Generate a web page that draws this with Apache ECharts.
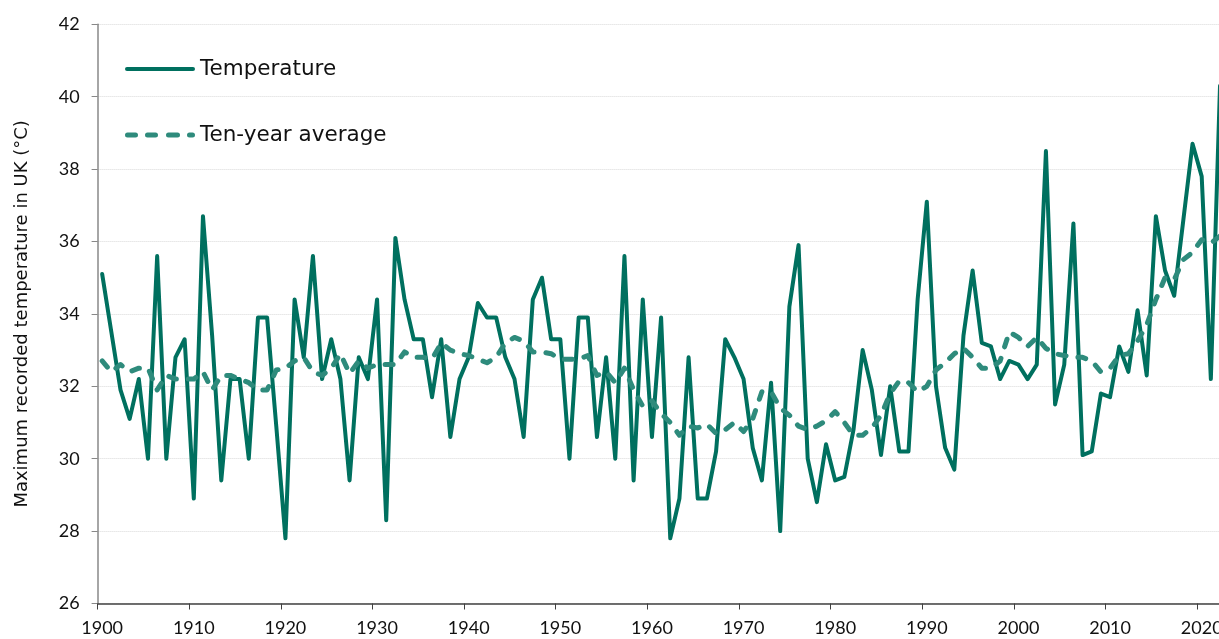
<!DOCTYPE html>
<html>
<head>
    <meta charset="utf-8" />
    <title>Maximum recorded temperature in UK</title>
    <style>
        html, body { margin: 0; padding: 0; background: #fff; }
        #chart { width: 1219px; height: 639px; }
    </style>
</head>
<body>
    <div id="chart"></div>
    <script src="https://cdn.jsdelivr.net/npm/echarts@6/dist/echarts.min.js"></script>
    <script>
        // years 1900 - 2022
        var years = [];
        for (var y = 1900; y <= 2022; y++) years.push(String(y));

        // highest temperature recorded each year (°C)
        var temperature = [
            35.1, 33.5, 31.9, 31.1, 32.2, 30.0, 35.6, 30.0, 32.8, 33.3,
            28.9, 36.7, 33.4, 29.4, 32.2, 32.2, 30.0, 33.9, 33.9, 30.9,
            27.8, 34.4, 32.8, 35.6, 32.2, 33.3, 32.2, 29.4, 32.8, 32.2,
            34.4, 28.3, 36.1, 34.4, 33.3, 33.3, 31.7, 33.3, 30.6, 32.2,
            32.8, 34.3, 33.9, 33.9, 32.8, 32.2, 30.6, 34.4, 35.0, 33.3,
            33.3, 30.0, 33.9, 33.9, 30.6, 32.8, 30.0, 35.6, 29.4, 34.4,
            30.6, 33.9, 27.8, 28.9, 32.8, 28.9, 28.9, 30.2, 33.3, 32.8,
            32.2, 30.3, 29.4, 32.1, 28.0, 34.2, 35.9, 30.0, 28.8, 30.4,
            29.4, 29.5, 30.8, 33.0, 31.9, 30.1, 32.0, 30.2, 30.2, 34.4,
            37.1, 32.0, 30.3, 29.7, 33.4, 35.2, 33.2, 33.1, 32.2, 32.7,
            32.6, 32.2, 32.6, 38.5, 31.5, 32.6, 36.5, 30.1, 30.2, 31.8,
            31.7, 33.1, 32.4, 34.1, 32.3, 36.7, 35.2, 34.5, 36.6, 38.7,
            37.8, 32.2, 40.3
        ];

        // ten-year average
        var tenYearAvg = [
            32.7, 32.4, 32.6, 32.4, 32.5, 32.5, 31.9, 32.3, 32.2, 32.2,
            32.2, 32.4, 31.9, 32.3, 32.3, 32.2, 32.1, 31.9, 31.9, 32.45,
            32.5, 32.7, 32.8, 32.4, 32.3, 32.5, 32.9, 32.35, 32.7, 32.5,
            32.6, 32.6, 32.6, 32.95, 32.8, 32.8, 32.75, 33.2, 33.0, 32.9,
            32.85, 32.75, 32.65, 32.8, 33.2, 33.35, 33.25, 32.95, 32.95, 32.9,
            32.75, 32.75, 32.75, 32.85, 32.3, 32.4, 32.1, 32.5, 31.9, 31.45,
            31.6, 31.25, 31.0, 30.65, 30.9, 30.85, 30.95, 30.7, 30.8, 31.0,
            30.75, 31.1, 31.85, 31.85, 31.4, 31.2, 30.9, 30.8, 30.9, 31.05,
            31.3, 31.0, 30.65, 30.65, 30.85, 31.2, 31.8, 32.15, 32.1, 31.85,
            32.0, 32.45, 32.65, 32.9, 33.05, 32.8, 32.5, 32.5, 32.7, 33.5,
            33.35, 33.1, 33.35, 33.05, 32.9, 32.85, 32.8, 32.8, 32.7, 32.4,
            32.5, 32.85, 32.9, 33.25, 33.7, 34.4, 35.0, 34.95, 35.5, 35.7,
            36.05, 35.95, 36.15
        ];

        var FONT = 'Lato';
        var WIDE_FONT = 'DejaVu Sans';
        var tempColor = '#00705F';
        var avgColor = '#2E8B7C';

        // legend icons: a solid rounded bar and a row of rounded dashes
        function roundBar(x0, x1, h) {
            var r = h / 2;
            return 'M' + (x0 + r) + ',0 H' + (x1 - r) +
                ' A' + r + ',' + r + ' 0 0 1 ' + (x1 - r) + ',' + h +
                ' H' + (x0 + r) +
                ' A' + r + ',' + r + ' 0 0 1 ' + (x0 + r) + ',0 Z ';
        }
        var solidIcon = 'path://' + roundBar(0, 70, 4);
        var dashIcon = 'path://' + roundBar(0, 13, 5) + roundBar(20, 33, 5) +
            roundBar(41, 55, 5) + roundBar(62, 70, 5);

        var chart = echarts.init(document.getElementById('chart'));

        var option = {
            animation: false,
            backgroundColor: '#fff',
            textStyle: { fontFamily: FONT },
            legend: [
                {
                    data: [{ name: 'Temperature', icon: solidIcon }],
                    left: 120,
                    top: 53,
                    itemWidth: 70,
                    itemHeight: 4,
                    textStyle: { fontFamily: WIDE_FONT, fontSize: 21.5, color: '#111' }
                },
                {
                    data: [{ name: 'Ten-year average', icon: dashIcon }],
                    left: 120,
                    top: 119,
                    itemWidth: 70,
                    itemHeight: 5,
                    textStyle: { fontFamily: WIDE_FONT, fontSize: 21.5, color: '#111' }
                }
            ],
            grid: {
                left: 97.6,
                top: 24.3,
                width: 1127,
                bottom: 35.5,
                containLabel: false,
                outerBoundsMode: 'none'
            },
            xAxis: {
                type: 'category',
                data: years,
                boundaryGap: true,
                axisLine: { lineStyle: { color: '#404040', width: 1.5 } },
                axisTick: { show: true, interval: 9, length: 6, lineStyle: { color: '#404040' } },
                axisLabel: {
                    interval: 9,
                    margin: 16,
                    fontFamily: FONT,
                    fontSize: 18,
                    color: '#111'
                },
                splitLine: { show: false }
            },
            yAxis: {
                type: 'value',
                min: 26,
                max: 42,
                interval: 2,
                name: 'Maximum recorded temperature in UK (°C)',
                nameLocation: 'middle',
                nameGap: 66,
                nameTextStyle: { fontFamily: WIDE_FONT, fontSize: 18, color: '#111' },
                axisLine: { show: true, lineStyle: { color: '#888', width: 1.5 } },
                axisTick: { show: true, length: 6, lineStyle: { color: '#888' } },
                axisLabel: { margin: 18, fontFamily: FONT, fontSize: 18, color: '#111' },
                splitLine: { lineStyle: { color: '#d9d9d9', type: 'dotted', width: 1 } }
            },
            series: [
                {
                    name: 'Temperature',
                    type: 'line',
                    data: temperature,
                    symbol: 'none',
                    color: tempColor,
                    lineStyle: { color: tempColor, width: 4, join: 'round', cap: 'round' }
                },
                {
                    name: 'Ten-year average',
                    type: 'line',
                    data: tenYearAvg,
                    symbol: 'none',
                    color: avgColor,
                    lineStyle: { color: avgColor, width: 5, type: [8, 12], cap: 'round', join: 'round' }
                }
            ]
        };

        chart.setOption(option);
    </script>
</body>
</html>
